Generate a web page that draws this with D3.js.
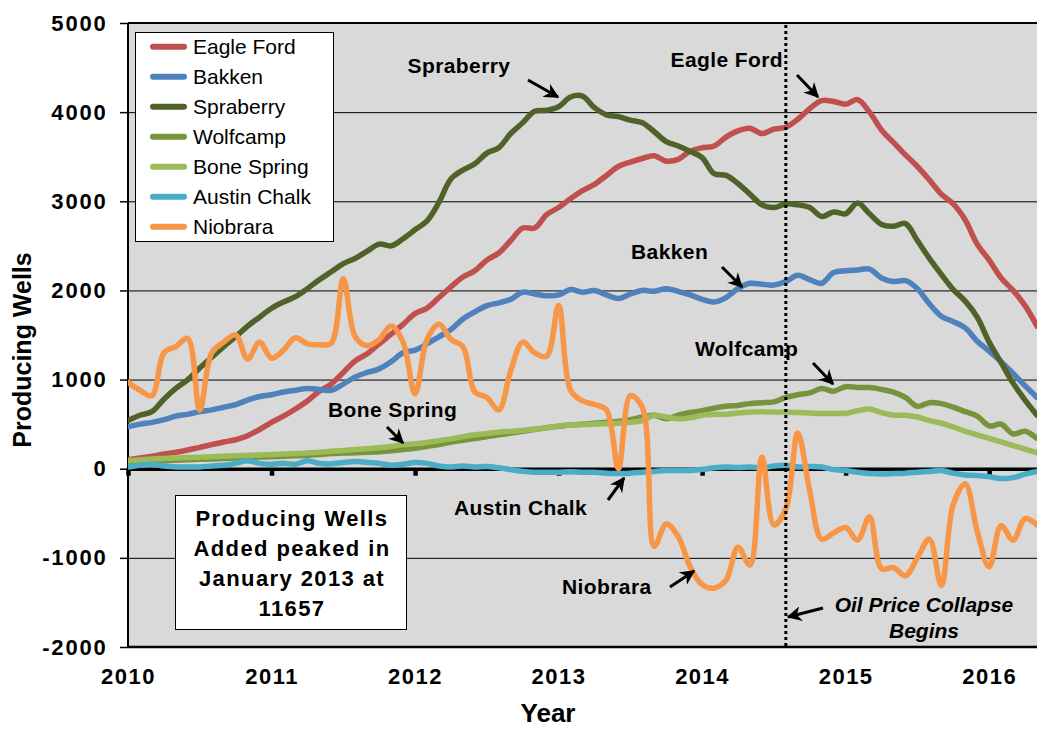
<!DOCTYPE html>
<html>
<head>
<meta charset="utf-8">
<script src="https://cdnjs.cloudflare.com/ajax/libs/d3/7.8.5/d3.min.js"></script>
<style>
	body { margin: 0; background: #fff; }
	svg { display: block; font-family: "Liberation Sans", Arial, sans-serif; }
</style>
</head>
<body>
<div id="chart"></div>
<script>
"use strict";

// monthly points, Jan 2010 = month 0
var months = d3.range(77);
var years = [2010, 2011, 2012, 2013, 2014, 2015, 2016];
var yTicks = [-2000, -1000, 0, 1000, 2000, 3000, 4000, 5000];

var seriesNames = ["Eagle Ford", "Bakken", "Spraberry", "Wolfcamp", "Bone Spring", "Austin Chalk", "Niobrara"];
var seriesColors = ["#C0504D", "#4F81BD", "#4F6228", "#77933C", "#9BBB59", "#4BACC6", "#F79646"];

var eagleFord = [100,120,140,165,185,210,240,270,300,325,370,440,520,590,670,760,870,950,1080,1210,
	1290,1400,1510,1620,1740,1800,1920,2040,2150,2220,2340,2420,2560,2700,2700,2850,2930,3030,3120,3190,
	3290,3390,3440,3480,3510,3450,3470,3560,3600,3620,3720,3790,3820,3760,3810,3830,3920,4040,4130,4120,
	4090,4140,4000,3800,3660,3520,3390,3240,3080,2970,2790,2520,2340,2140,2000,1830,1600];
var bakken = [470,500,520,550,590,610,640,660,690,720,770,810,830,860,880,900,890,880,950,1030,
	1080,1120,1200,1300,1330,1400,1480,1560,1680,1760,1830,1860,1900,1980,1960,1940,1950,2010,1980,2000,
	1950,1910,1960,2000,1990,2020,1990,1950,1900,1870,1920,2020,2080,2070,2060,2100,2170,2120,2080,2200,
	2220,2230,2240,2140,2100,2110,2020,1850,1710,1650,1580,1430,1320,1200,1070,930,800];
var spraberry = [540,600,640,780,900,1000,1130,1250,1370,1480,1600,1700,1800,1870,1930,2020,2120,2210,2300,2360,
	2440,2520,2500,2580,2680,2780,2990,3250,3350,3420,3540,3600,3760,3880,4010,4020,4060,4170,4180,4050,
	3970,3950,3910,3880,3780,3670,3620,3560,3490,3310,3290,3200,3080,2960,2930,2970,2960,2930,2830,2880,
	2860,2980,2860,2740,2720,2750,2560,2360,2180,2010,1880,1700,1420,1190,960,770,600];
var wolfcamp = [70,80,85,90,95,100,105,110,115,120,125,130,135,140,145,150,160,170,175,180,
	185,190,200,215,230,250,270,300,320,340,360,380,400,420,440,460,475,490,500,510,
	520,530,550,580,600,560,600,630,650,680,700,710,730,740,750,800,830,850,900,870,
	920,910,910,890,860,800,700,740,730,690,640,590,480,500,390,420,340];
var boneSpring = [90,100,110,115,120,125,130,135,140,145,150,155,160,165,170,175,185,195,205,215,
	225,235,250,270,280,295,315,335,360,380,395,410,420,430,445,460,480,490,495,500,
	505,510,520,540,600,580,560,570,600,610,610,625,635,640,635,635,630,625,620,620,
	620,650,670,630,600,600,580,540,510,470,420,380,340,300,260,220,180];
var austinChalk = [20,40,50,30,20,20,20,30,40,60,90,60,50,60,50,90,60,55,70,80,
	70,60,40,50,70,60,30,20,30,20,25,10,-10,-30,-40,-40,-40,-35,-40,-40,
	-50,-55,-50,-40,-30,-20,-20,-20,-10,10,20,15,20,10,30,40,20,25,20,-10,
	-20,-40,-55,-60,-55,-50,-40,-30,-20,-50,-70,-75,-90,-110,-100,-60,-30];
var niobrara = [970,880,820,1300,1370,1460,660,1300,1420,1500,1230,1420,1240,1330,1470,1400,1390,1410,2130,1480,
	1380,1450,1600,1420,840,1450,1620,1450,1370,860,800,660,1100,1420,1300,1260,1830,880,760,720,
	660,0,820,690,-870,-620,-760,-1100,-1300,-1340,-1250,-880,-1080,130,-630,-450,400,-250,-790,-720,
	-660,-800,-540,-1120,-1110,-1200,-1000,-790,-1310,-400,-170,-700,-1100,-640,-800,-560,-630];

var seriesValues = [eagleFord, bakken, spraberry, wolfcamp, boneSpring, austinChalk, niobrara];

var W = 1037, H = 729;
var pLeft = 128, pRight = 1037, pTop = 23, pBottom = 647;

var svg = d3.select("#chart").append("svg").attr("width", W).attr("height", H);

var x = d3.scaleLinear().domain([2010, 2010 + 76 / 12]).range([pLeft, pRight]);
var y = d3.scaleLinear().domain([-2000, 5000]).range([pBottom, pTop]);

svg.append("rect")
	.attr("x", pLeft).attr("y", pTop)
	.attr("width", pRight - pLeft + 5).attr("height", pBottom - pTop)
	.attr("fill", "#D9D9D9");

// gridlines
var grid = svg.append("g")
	.attr("transform", "translate(" + pLeft + ",0)")
	.call(d3.axisLeft(y).tickValues(yTicks).tickSize(-(pRight - pLeft + 5)).tickFormat(""));
grid.select(".domain").remove();
grid.selectAll("line").attr("stroke", "#000").attr("stroke-width", 1);

// y axis labels + outer ticks
var yAxis = svg.append("g")
	.attr("transform", "translate(" + pLeft + ",0)")
	.call(d3.axisLeft(y).tickValues(yTicks).tickSize(8).tickSizeOuter(0).tickPadding(12.5)
		.tickFormat(function (d) { return String(d); }));
yAxis.select(".domain").remove();
yAxis.selectAll("line").attr("stroke", "#000").attr("stroke-width", 1.5);
yAxis.selectAll("text")
	.attr("font-size", "22px").attr("font-weight", "bold")
	.attr("letter-spacing", "1.8px").attr("fill", "#000")
	.attr("font-family", "Liberation Sans, Arial, sans-serif");

// plot border
svg.append("line").attr("x1", pLeft).attr("x2", W).attr("y1", pTop).attr("y2", pTop)
	.attr("stroke", "#000").attr("stroke-width", 2);
svg.append("line").attr("x1", pLeft).attr("x2", W).attr("y1", pBottom).attr("y2", pBottom)
	.attr("stroke", "#000").attr("stroke-width", 2.5);
svg.append("line").attr("x1", pLeft).attr("x2", pLeft).attr("y1", pTop).attr("y2", pBottom)
	.attr("stroke", "#000").attr("stroke-width", 2);

// zero axis with year ticks
var zeroAxis = svg.append("g")
	.attr("transform", "translate(0," + y(0) + ")")
	.call(d3.axisBottom(x).tickValues(years).tickSize(7).tickSizeOuter(0).tickFormat(""));
zeroAxis.select(".domain").attr("stroke", "#000").attr("stroke-width", 3.5);
zeroAxis.selectAll("line").attr("stroke", "#000").attr("stroke-width", 4.5);

// year labels at the bottom
var xAxis = svg.append("g")
	.attr("transform", "translate(0," + pBottom + ")")
	.call(d3.axisBottom(x).tickValues(years).tickSize(0).tickFormat(d3.format("d")));
xAxis.select(".domain").remove();
xAxis.selectAll("text")
	.attr("y", 37).attr("dy", 0)
	.attr("font-size", "22px").attr("font-weight", "bold")
	.attr("letter-spacing", "1.5px").attr("fill", "#000")
	.attr("font-family", "Liberation Sans, Arial, sans-serif");

// series lines
var line = d3.line()
	.x(function (d, i) { return x(2010 + months[i] / 12); })
	.y(function (d) { return y(d); })
	.curve(d3.curveCatmullRom.alpha(0.5));

svg.append("clipPath").attr("id", "plotClip")
	.append("rect").attr("x", pLeft).attr("y", pTop).attr("width", W - pLeft).attr("height", pBottom - pTop);

var lines = svg.append("g").attr("clip-path", "url(#plotClip)");
seriesValues.forEach(function (vals, k) {
	lines.append("path")
		.datum(vals)
		.attr("d", line)
		.attr("fill", "none")
		.attr("stroke", seriesColors[k])
		.attr("stroke-width", 5.5)
		.attr("stroke-linejoin", "round")
		.attr("stroke-linecap", "round");
});

// oil price collapse marker (Aug 2014)
svg.append("line")
	.attr("x1", x(2014 + 7 / 12)).attr("x2", x(2014 + 7 / 12))
	.attr("y1", pTop + 2).attr("y2", pBottom - 1)
	.attr("stroke", "#000").attr("stroke-width", 3)
	.attr("stroke-dasharray", "3,3");

// arrows
svg.append("defs").append("marker")
	.attr("id", "arrow")
	.attr("viewBox", "0 0 10 10")
	.attr("refX", 9).attr("refY", 5)
	.attr("markerUnits", "userSpaceOnUse")
	.attr("markerWidth", 15).attr("markerHeight", 15)
	.attr("orient", "auto")
	.append("path")
	.attr("d", "M0,0 L10,5 L0,10 L3,5 Z")
	.attr("fill", "#000");

var arrows = [
	[528, 80, 558, 97],
	[797, 75, 818, 97],
	[722, 267, 742, 287],
	[813, 363, 833, 384],
	[387, 427, 403, 443],
	[608, 500, 624, 478],
	[670, 587, 694, 571],
	[823, 608, 788, 617]
];
svg.selectAll(".arrow").data(arrows).enter().append("line")
	.attr("class", "arrow")
	.attr("x1", function (d) { return d[0]; })
	.attr("y1", function (d) { return d[1]; })
	.attr("x2", function (d) { return d[2]; })
	.attr("y2", function (d) { return d[3]; })
	.attr("stroke", "#000").attr("stroke-width", 3)
	.attr("marker-end", "url(#arrow)");

var notes = [
	{ t: "Spraberry", x: 459, y: 73, a: "middle" },
	{ t: "Eagle Ford", x: 783, y: 67, a: "end" },
	{ t: "Bakken", x: 631, y: 259, a: "start" },
	{ t: "Wolfcamp", x: 695, y: 356, a: "start" },
	{ t: "Bone Spring", x: 328, y: 417, a: "start" },
	{ t: "Austin Chalk", x: 454, y: 515, a: "start" },
	{ t: "Niobrara", x: 562, y: 594, a: "start" }
];
svg.selectAll(".note").data(notes).enter().append("text")
	.attr("class", "note")
	.attr("x", function (d) { return d.x; })
	.attr("y", function (d) { return d.y; })
	.attr("text-anchor", function (d) { return d.a; })
	.attr("font-size", "21px").attr("font-weight", "bold")
	.attr("letter-spacing", "0.4px")
	.text(function (d) { return d.t; });

var oil = svg.append("text")
	.attr("text-anchor", "middle")
	.attr("font-size", "21px").attr("font-weight", "bold").attr("font-style", "italic");
oil.append("tspan").attr("x", 924).attr("y", 612).text("Oil Price Collapse");
oil.append("tspan").attr("x", 924).attr("y", 638).text("Begins");

// peak box
svg.append("rect")
	.attr("x", 175.5).attr("y", 495.5).attr("width", 231).attr("height", 134)
	.attr("fill", "#fff").attr("stroke", "#000").attr("stroke-width", 1);
var boxLines = ["Producing Wells", "Added peaked in", "January 2013 at", "11657"];
svg.selectAll(".boxline").data(boxLines).enter().append("text")
	.attr("class", "boxline")
	.attr("x", 292)
	.attr("y", function (d, i) { return 526 + i * 30; })
	.attr("text-anchor", "middle")
	.attr("font-size", "22px").attr("font-weight", "bold")
	.attr("letter-spacing", "1.4px")
	.text(function (d) { return d; });

// legend
svg.append("rect")
	.attr("x", 135.5).attr("y", 32.5).attr("width", 198).attr("height", 209)
	.attr("fill", "#fff").attr("stroke", "#000").attr("stroke-width", 1);
var legend = svg.selectAll(".legend").data(seriesNames).enter().append("g")
	.attr("class", "legend")
	.attr("transform", function (d, i) { return "translate(0," + (46.7 + i * 30) + ")"; });
legend.append("line")
	.attr("x1", 153).attr("x2", 184).attr("y1", 0).attr("y2", 0)
	.attr("stroke", function (d, i) { return seriesColors[i]; })
	.attr("stroke-width", 6).attr("stroke-linecap", "round");
legend.append("text")
	.attr("x", 193).attr("y", 7.5)
	.attr("font-size", "21px")
	.text(function (d) { return d; });

// axis titles
svg.append("text")
	.attr("x", 548).attr("y", 722)
	.attr("text-anchor", "middle")
	.attr("font-size", "26px").attr("font-weight", "bold")
	.text("Year");
svg.append("text")
	.attr("transform", "translate(31,350) rotate(-90)")
	.attr("text-anchor", "middle")
	.attr("font-size", "25px").attr("font-weight", "bold")
	.text("Producing Wells");
</script>
</body>
</html>
